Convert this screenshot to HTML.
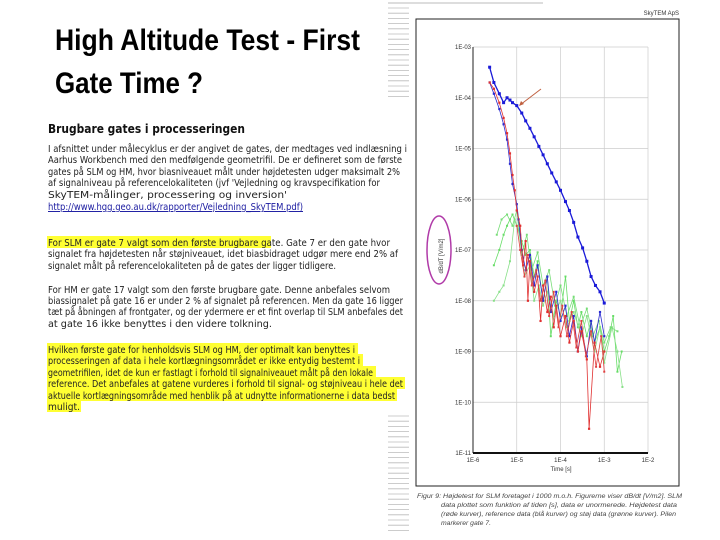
<!DOCTYPE html>
<html><head><meta charset="utf-8">
<style>
html,body{margin:0;padding:0;background:#fff;}
svg{display:block;}
.b{font-family:"DejaVu Sans","Liberation Sans",sans-serif;font-size:9.6px;fill:#222;}
.t{font-family:"Liberation Sans",sans-serif;font-weight:bold;font-size:30px;fill:#000;}
.ax{font-family:"Liberation Sans",sans-serif;font-size:6px;fill:#333;}
.cap{font-family:"Liberation Sans",sans-serif;font-size:6.3px;font-style:italic;fill:#444;}
</style></head>
<body>
<svg id="slide" width="720" height="540" viewBox="0 0 720 540" xmlns="http://www.w3.org/2000/svg">
<rect width="720" height="540" fill="#fff"/>
<g id="deco"></g>
<line x1="388" y1="3" x2="543" y2="3" stroke="#bbb" stroke-width="1"/>
<text class="t" x="55" y="50" textLength="305" lengthAdjust="spacingAndGlyphs">High Altitude Test - First</text>
<text class="t" x="55" y="93" textLength="148" lengthAdjust="spacingAndGlyphs">Gate Time ?</text>
<text x="48" y="133" style="font-family:'DejaVu Sans',sans-serif;font-weight:bold;font-size:12.5px;fill:#111" textLength="197" lengthAdjust="spacingAndGlyphs">Brugbare gates i processeringen</text>
<g id="hl">
<rect x="47" y="236" width="224" height="12" fill="#ffff33"/>
<rect x="47" y="343" width="311" height="12" fill="#ffff33"/>
<rect x="47" y="354" width="316" height="12" fill="#ffff33"/>
<rect x="47" y="366" width="329" height="12" fill="#ffff33"/>
<rect x="47" y="377" width="358" height="12" fill="#ffff33"/>
<rect x="47" y="389" width="350" height="12" fill="#ffff33"/>
<rect x="47" y="400" width="34" height="12" fill="#ffff33"/>
</g>
<g id="body"></g>
<g id="chart"></g>
</svg>
<script>
const NS="http://www.w3.org/2000/svg";
function mk(tag,attrs,parent,txt){const e=document.createElementNS(NS,tag);for(const k in attrs)e.setAttribute(k,attrs[k]);if(txt!==undefined)e.textContent=txt;parent.appendChild(e);return e;}
const deco=document.getElementById('deco');
for(let y=8;y<=100;y+=5.2){mk('line',{x1:388,x2:409,y1:y,y2:y,stroke:'#bbb','stroke-width':0.8},deco);}
for(let y=416;y<=535;y+=5.2){mk('line',{x1:388,x2:409,y1:y,y2:y,stroke:'#bbb','stroke-width':0.8},deco);}
const lines=[
["I afsnittet under målecyklus er der angivet de gates, der medtages ved indlæsning i",152,359],
["Aarhus Workbench med den medfølgende geometrifil. De er defineret som de første",163,354],
["gates på SLM og HM, hvor biasniveauet målt under højdetesten udger maksimalt 2%",175,352],
["af signalniveau på referencelokaliteten (jvf 'Vejledning og kravspecifikation for",186,332],
["SkyTEM-målinger, processering og inversion'",198,239],
["http://www.hgg.geo.au.dk/rapporter/Vejledning_SkyTEM.pdf)",210,255,'link'],
["For SLM er gate 7 valgt som den første brugbare gate. Gate 7 er den gate hvor",246,342],
["signalet fra højdetesten når støjniveauet, idet biasbidraget udgør mere end 2% af",257,350],
["signalet målt på referencelokaliteten på de gates der ligger tidligere.",269,288],
["For HM er gate 17 valgt som den første brugbare gate. Denne anbefales selvom",293,342],
["biassignalet på gate 16 er under 2 % af signalet på referencen. Men da gate 16 ligger",304,355],
["tæt på åbningen af frontgater, og der ydermere er et fint overlap til SLM anbefales det",315,355],
["at gate 16 ikke benyttes i den videre tolkning.",327,224],
["Hvilken første gate for henholdsvis SLM og HM, der optimalt kan benyttes i",353,307],
["processeringen af data i hele kortlægningsområdet er ikke entydig bestemt i",364,312],
["geometrifilen, idet de kun er fastlagt i forhold til signalniveauet målt på den lokale",376,325],
["reference. Det anbefales at gatene vurderes i forhold til signal- og støjniveau i hele det",387,355],
["aktuelle kortlægningsområde med henblik på at udnytte informationerne i data bedst",399,347],
["muligt.",410,32]];
const body=document.getElementById('body');
lines.forEach((L,i)=>{const t=mk('text',{class:'b',x:48,y:L[1],textLength:L[2],lengthAdjust:'spacingAndGlyphs'},body,L[0]);
if(L[3]){t.setAttribute('style','fill:#1a1aa0;text-decoration:underline');}

});

// ---------- chart data ----------
const xTickLabels=["1E-6","1E-5","1E-4","1E-3","1E-2"];
const yTickLabels=["1E-03","1E-04","1E-05","1E-06","1E-07","1E-08","1E-09","1E-10","1E-11"];
const refTimes=[2.4e-6,3e-6,4e-6,5e-6,6e-6,7e-6,8e-6,1e-5,1.3e-5,1.6e-5,2e-5,2.5e-5,3.2e-5,4e-5,5e-5,6.3e-5,8e-5,1e-4,1.3e-4,1.6e-4,2e-4,2.5e-4,3.2e-4,4e-4,5e-4,6.3e-4,8e-4,1e-3];
const refValues=[4e-4,2e-4,1.2e-4,8e-5,1e-4,9e-5,8e-5,7e-5,5e-5,3.5e-5,2.5e-5,1.7e-5,1.1e-5,7.5e-6,5e-6,3.3e-6,2.2e-6,1.5e-6,9e-7,6e-7,3.5e-7,1.8e-7,1.1e-7,6e-8,3e-8,2e-8,1.5e-8,9e-9];
const ref2Times=[2.4e-6,3e-6,4e-6,5e-6,6e-6,7e-6,8e-6,1e-5,1.1e-5,1.3e-5,1.6e-5,2e-5,2.5e-5,3e-5,4e-5,5e-5,6e-5,8e-5,1e-4,1.3e-4,1.6e-4,2e-4,2.5e-4,3e-4,4e-4,5e-4,6e-4,8e-4,1e-3];
const ref2Values=[2e-4,1.2e-4,6e-5,3e-5,1.5e-5,5e-6,2e-6,8e-7,4e-7,1e-7,4e-8,8e-8,2e-8,5e-8,1e-8,3e-8,6e-9,1.5e-8,4e-9,8e-9,2e-9,5e-9,1e-9,3e-9,8e-10,4e-9,1.5e-9,6e-9,2e-9];
const testTimes=[2.4e-6,3e-6,4e-6,5e-6,6e-6,7e-6,8e-6,9e-6,1e-5,1.2e-5,1.4e-5,1.6e-5,1.8e-5,2e-5,2.5e-5,3e-5,3.5e-5,4e-5,5e-5,6e-5,7e-5,8e-5,1e-4,1.3e-4,1.6e-4,2e-4,2.5e-4,3e-4,4e-4,4.5e-4,6e-4,8e-4,1e-3];
const testValues=[2e-4,1.5e-4,8e-5,4e-5,2e-5,8e-6,3e-6,1.5e-6,6e-7,3e-7,5e-8,1.5e-7,1e-8,6e-8,1.5e-8,3e-8,4e-9,2e-8,6e-9,1.2e-8,3e-9,8e-9,2e-9,5e-9,1.5e-9,4e-9,1e-9,2.5e-9,7e-10,3e-11,1.5e-9,5e-10,1e-9];
const test2Times=[1e-5,1.2e-5,1.5e-5,1.8e-5,2.2e-5,2.8e-5,3.5e-5,4.5e-5,5.5e-5,7e-5,9e-5,1.1e-4,1.4e-4,1.8e-4,2.3e-4,3e-4,3.8e-4,5e-4,6.5e-4,8.5e-4,1e-3];
const test2Values=[3e-7,1e-7,3e-8,8e-8,2e-8,4e-8,1e-8,2.5e-8,5e-9,1.5e-8,3e-9,8e-9,2e-9,6e-9,1.2e-9,4e-9,8e-10,2.5e-9,5e-10,2e-9,4e-10];
const noiseTimes=[3e-6,4e-6,5e-6,6e-6,7e-6,8e-6,1e-5,1.3e-5,1.6e-5,2e-5,2.5e-5,3e-5,4e-5,5e-5,6e-5,8e-5,1e-4,1.3e-4,1.6e-4,2e-4,2.5e-4,3e-4,4e-4,5e-4,6e-4,8e-4,1e-3,1.3e-3,1.6e-3,2e-3,2.5e-3];
const noiseValues=[5e-8,1e-7,2e-7,3e-7,4e-7,5e-7,3e-7,1.5e-7,8e-8,1e-7,3e-8,6e-8,1e-8,3e-8,2e-9,1e-8,5e-9,3e-8,4e-9,1e-8,3e-9,6e-9,2e-9,4e-9,1.5e-9,3e-9,1e-9,2e-9,5e-9,4e-10,1e-9];
const noise2Times=[3e-6,4e-6,5e-6,7e-6,9e-6,1.2e-5,1.5e-5,2e-5,2.5e-5,3.2e-5,4e-5,5e-5,7e-5,1e-4,1.4e-4,2e-4,3e-4,4e-4,6e-4,8e-4,1e-3,1.5e-3,2e-3,2.6e-3];
const noise2Values=[1e-8,1.5e-8,2e-8,6e-8,4e-7,2e-7,3e-8,5e-8,1e-8,2e-8,8e-9,1.5e-8,5e-9,1e-8,3e-9,6e-9,2e-9,5e-9,1e-9,3e-9,6e-10,3e-9,1e-9,2e-10];
const noise3Times=[3.5e-6,4.5e-6,6e-6,8e-6,1e-5,1.3e-5,1.7e-5,2.2e-5,3e-5,4e-5,5.5e-5,7.5e-5,1e-4,1.4e-4,2e-4,2.8e-4,4e-4,5.5e-4,7.5e-4,1e-3,1.4e-3,2e-3];
const noise3Values=[2e-7,4e-7,5e-7,3e-7,6e-7,8e-8,2e-7,4e-8,9e-8,2e-8,4e-8,8e-9,2e-8,5e-9,1.2e-8,3e-9,7e-9,2e-9,4e-9,1.5e-9,3e-9,2.5e-9];

const X0=473,X1=648,Y0=47,Y1=453;
const xMinE=-6,xMaxE=-2,yMaxE=-3,yMinE=-11;
const xs=t=>X0+(Math.log10(t)-xMinE)/(xMaxE-xMinE)*(X1-X0);
const ys=v=>Y0+(yMaxE-Math.log10(v))/(yMaxE-yMinE)*(Y1-Y0);
const ch=document.getElementById('chart');
const frame=mk('rect',{x:416,y:19,width:263,height:467,fill:'none',stroke:'#222','stroke-width':1},ch);


const brand=mk('text',{class:'ax',x:679,y:15,'text-anchor':'end'},ch,"SkyTEM ApS");


const grid=mk('g',{},ch);


yTickLabels.forEach((lab,i)=>{const v=Math.pow(10,yMaxE-i);const y=ys(v);
mk('line',{x1:X0,x2:X1,y1:y,y2:y,stroke:'#ccc','stroke-width':0.7},grid);
const t=mk('text',{class:'ax',x:X0-2,y:y+2,'text-anchor':'end'},ch,lab);

});
xTickLabels.forEach((lab,i)=>{const t0=Math.pow(10,xMinE+i);const x=xs(t0);
mk('line',{x1:x,x2:x,y1:Y0,y2:Y1,stroke:'#ccc','stroke-width':0.7},grid);
const t=mk('text',{class:'ax',x:x,y:Y1+9,'text-anchor':'middle'},ch,lab);

});
mk('line',{x1:X0,x2:X0,y1:Y0,y2:Y1,stroke:'#222','stroke-width':1},ch);
mk('line',{x1:X0,x2:X1,y1:Y1,y2:Y1,stroke:'#111','stroke-width':2},ch);
const xt=mk('text',{class:'ax',x:561,y:471,'text-anchor':'middle'},ch,"Time [s]");


const yt=mk('text',{class:'ax',x:0,y:0,'text-anchor':'middle',transform:'translate(443,256) rotate(-90)'},ch,"dB/dT [V/m2]");


const ell=mk('ellipse',{cx:439,cy:250,rx:12,ry:34,fill:'none',stroke:'#b03aa8','stroke-width':1.5},ch);


const arr=mk('line',{x1:541,y1:89,x2:520,y2:105,stroke:'#c06040','stroke-width':1},ch);


mk('path',{d:'M519,106 l2,-5 l3,3 z',fill:'#c06040'},ch);

function series(T,V,color,name,r,w){const g=mk('g',{},ch);


const pts=T.map((t,i)=>xs(t).toFixed(1)+','+ys(V[i]).toFixed(1)).join(' ');
mk('polyline',{points:pts,fill:'none',stroke:color,'stroke-width':w||0.8},g);
T.forEach((t,i)=>{const p=mk('rect',{x:xs(t)-r,y:ys(V[i])-r,width:2*r,height:2*r,fill:color},g);

});}
series(noiseTimes,noiseValues,'#66dd66','noise-series',1);
series(noise2Times,noise2Values,'#88e088','noise-series-2',1);
series(noise3Times,noise3Values,'#77dd77','noise-series-3',1);
series(ref2Times,ref2Values,'#2a2ad0','reference-series-2',1.1);
series(testTimes,testValues,'#e03030','test-series',1.1);
series(test2Times,test2Values,'#e04040','test-series-2',1);
series(refTimes,refValues,'#1a1ad8','reference-series',1.5,1.3);

const caps=[["Figur 9: Højdetest for SLM foretaget i 1000 m.o.h. Figurerne viser dB/dt [V/m2]. SLM",417,498,265],
["data plottet som funktion af tiden [s], data er unormerede. Højdetest data",441,507,236],
["(røde kurver), reference data (blå kurver) og støj data (grønne kurver). Pilen",441,516,235],
["markerer gate 7.",441,525,50]];
caps.forEach(c=>{const t=mk('text',{class:'cap',x:c[1],y:c[2],textLength:c[3],lengthAdjust:'spacingAndGlyphs'},ch,c[0]);

});
</script>
</body></html>
